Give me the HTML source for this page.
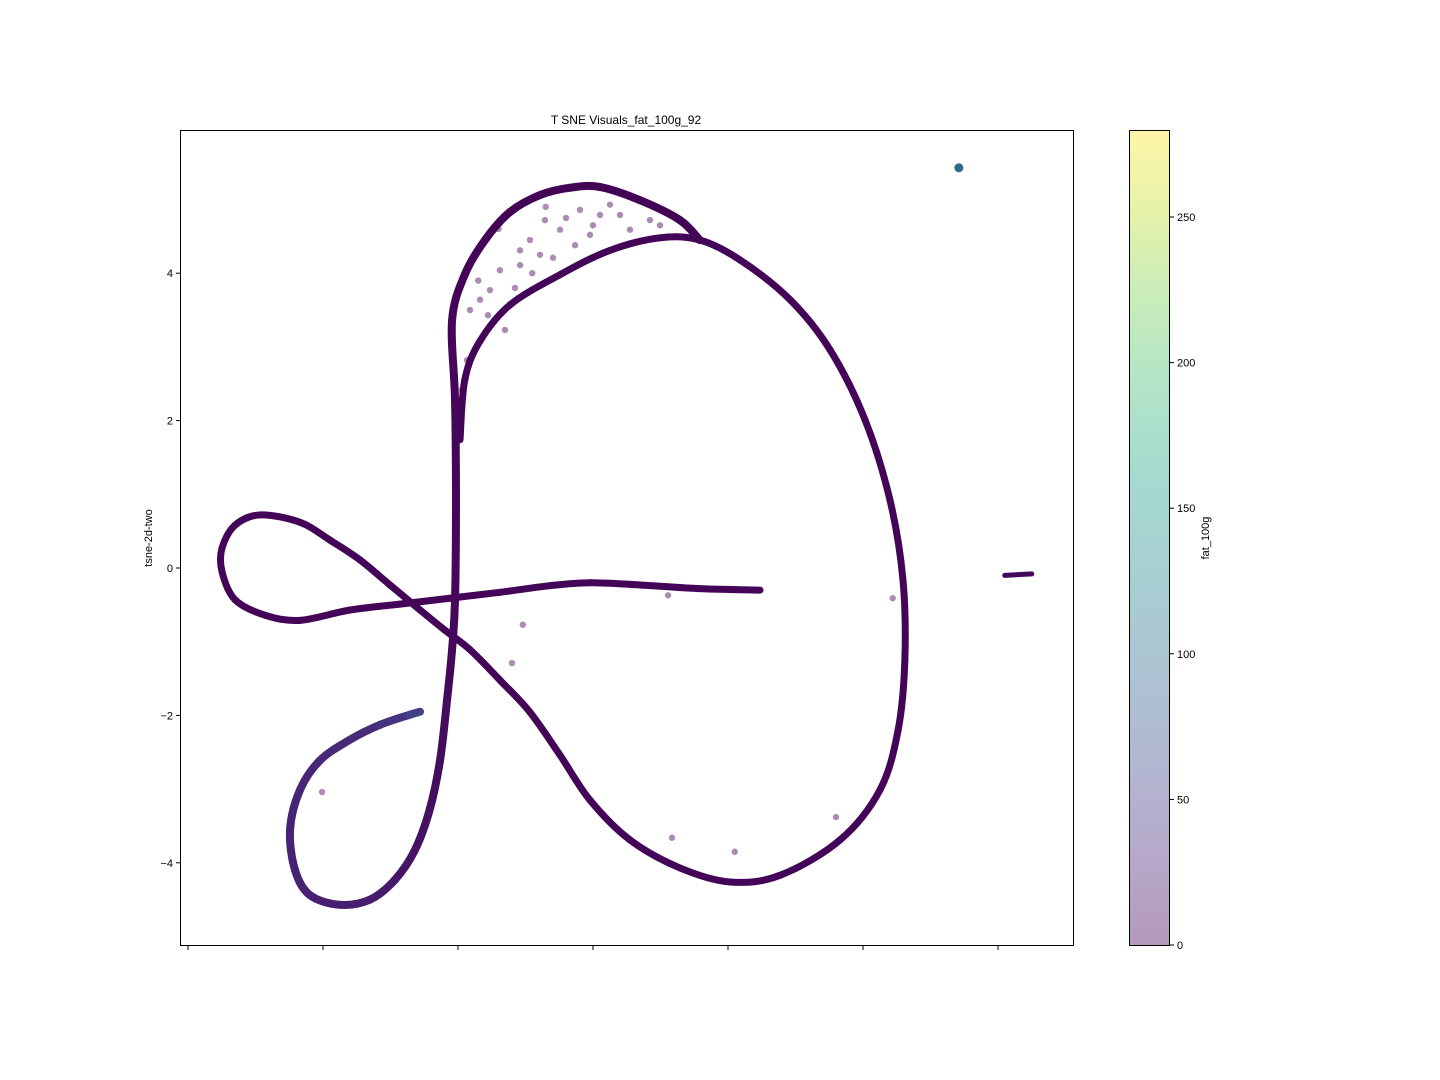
<!DOCTYPE html>
<html><head><meta charset="utf-8"><style>
body{margin:0;background:#fff;}
svg{display:block;font-family:"Liberation Sans",sans-serif;}
</style></head><body>
<svg id="chart" width="1440" height="1080" xmlns="http://www.w3.org/2000/svg">
<defs>
<linearGradient id="vir" x1="0" y1="1" x2="0" y2="0">
<stop offset="0" stop-color="#440154"/><stop offset="0.1" stop-color="#482475"/><stop offset="0.2" stop-color="#414487"/><stop offset="0.3" stop-color="#355f8d"/><stop offset="0.4" stop-color="#2a788e"/><stop offset="0.5" stop-color="#21918c"/><stop offset="0.6" stop-color="#22a884"/><stop offset="0.7" stop-color="#44bf70"/><stop offset="0.8" stop-color="#7ad151"/><stop offset="0.9" stop-color="#bddf26"/><stop offset="1" stop-color="#fde725"/>
</linearGradient>
</defs>
<text x="626" y="124" font-size="12" text-anchor="middle">T SNE Visuals_fat_100g_92</text>
<g id="plot"></g>
<rect x="180.5" y="130.5" width="893" height="815" fill="none" stroke="#000" stroke-width="1"/>
<g id="yticks"></g>
<g id="xticks"></g>
<text transform="translate(152,538) rotate(-90)" font-size="11" text-anchor="middle">tsne-2d-two</text>
<rect x="1129.5" y="130.5" width="40" height="815" fill="url(#vir)" opacity="0.4"/>
<rect x="1129.5" y="130.5" width="40" height="815" fill="none" stroke="#000" stroke-width="1"/>
<g id="cticks"></g>
<text transform="translate(1209,538) rotate(-90)" font-size="11" text-anchor="middle">fat_100g</text>
</svg>
<script>
const yTickVals=[-4,-2,0,2,4];
const xTickVals=[0,100,200,300,400,500,600];
const cTickVals=[0,50,100,150,200,250];
const pathAx=[423.7,379,334.8,297.8,268,231,194,157,120,83,57,34.8,25.2,25.2,34.8,53.3,83,105,127.4,149.6,171.9,190,209,231,253,275.6,297.8,327.4,364.4,401.5,438.5,483,512.6,526,531,529.6,520,501.5,475.6,446,408.9,379,349.6,312.6,275.6,238.5,216,205,201.5];
const pathAy=[-0.30,-0.28,-0.23,-0.2,-0.24,-0.33,-0.41,-0.49,-0.57,-0.71,-0.64,-0.43,-0.05,0.27,0.58,0.72,0.62,0.38,0.11,-0.23,-0.57,-0.84,-1.11,-1.52,-1.95,-2.54,-3.15,-3.69,-4.07,-4.26,-4.17,-3.69,-3.01,-2.2,-1.25,-0.16,0.92,2.01,2.96,3.64,4.18,4.45,4.48,4.31,3.98,3.57,3.07,2.55,1.74];
const pathBx=[379,364.4,334.8,305,283,260.7,238.5,220,205,195.6,197.8,198.5,197.8,195.6,191.9,186.7,179,168,153.3,134.8,112.6,90.4,79.3,75.6,83,97.8,120,142,164.4,171.9];
const pathBy=[4.45,4.72,4.99,5.17,5.16,5.06,4.83,4.45,3.98,3.36,2.28,0.92,-0.43,-1.11,-1.79,-2.61,-3.28,-3.83,-4.23,-4.5,-4.57,-4.44,-4.1,-3.55,-3.01,-2.61,-2.33,-2.13,-1.99,-1.95];
const pathBfat=[2,2,2,2,2,2,2,3,3,4,5,5,5,6,8,10,13,16,20,22,24,26,27,28,30,32,36,42,55,75];
const scatX=[216.3,223.7,231,246,253.3,264.4,275.6,286.7,297.8,305.2,320,327.4,342.2,349.6,234.8,222.2,208.9,212.6,246,260.7,290.4,312.6,270.4,242.2,206.7,203,248,240,405,358.5,480,99.3,522,355.6,230,255,280,300,265,215];
const scatY=[3.64,3.77,4.04,4.31,4.45,4.72,4.59,4.38,4.52,4.79,4.79,4.59,4.72,4.65,3.23,3.43,3.5,2.96,4.11,4.25,4.86,4.93,4.21,3.8,2.82,2.42,-0.77,-1.29,-3.85,-3.66,-3.38,-3.04,-0.41,-0.37,4.6,4.0,4.75,4.65,4.9,3.9];
const clusterX=[571,605,625];
const clusterY=[5.43,-0.1,-0.08];
const clusterFat=[95,5,5];

const X=v=>188+v*1.35, Y=v=>568-v*73.7, C=v=>945-v*2.912;
const NS='http://www.w3.org/2000/svg';
const vir=['#440154','#482475','#414487','#355f8d','#2a788e','#21918c','#22a884','#44bf70','#7ad151','#bddf26','#fde725'];
function hex(h){return [1,3,5].map(i=>parseInt(h.substr(i,2),16));}
function col(f){let t=Math.max(0,Math.min(1,f/280))*10;let i=Math.min(9,Math.floor(t));let a=hex(vir[i]),b=hex(vir[i+1]),u=t-i;return 'rgb('+a.map((c,k)=>Math.round(c+(b[k]-c)*u)).join(',')+')';}
function mk(tag,attrs,parent){const e=document.createElementNS(NS,tag);for(const k in attrs)e.setAttribute(k,attrs[k]);parent.appendChild(e);return e;}
const plot=document.getElementById('plot');
function drawPath(xs,ys,fats,w,name){
  const P=xs.map((x,i)=>[X(x),Y(ys[i])]);
  const n=P.length;
  for(let i=0;i<n-1;i++){
    const p0=P[Math.max(0,i-1)],p1=P[i],p2=P[i+1],p3=P[Math.min(n-1,i+2)];
    const c1=[p1[0]+(p2[0]-p0[0])/6,p1[1]+(p2[1]-p0[1])/6];
    const c2=[p2[0]-(p3[0]-p1[0])/6,p2[1]-(p3[1]-p1[1])/6];
    const d='M'+p1[0]+','+p1[1]+' C'+c1[0]+','+c1[1]+' '+c2[0]+','+c2[1]+' '+p2[0]+','+p2[1];
    const s=mk('path',{d:d,fill:'none',stroke:col(fats?fats[i]:3),'stroke-width':w,'stroke-linecap':'round'},plot);
    
    
  }
}
drawPath(pathAx,pathAy,null,7,'main-loop');
drawPath(pathBx,pathBy,pathBfat,8,'vertical-strand');
for(let i=0;i<scatX.length;i++){
  const c=mk('circle',{cx:X(scatX[i]),cy:Y(scatY[i]),r:3.2,fill:'#440154','fill-opacity':0.45},plot);
  
  
}
const c0=mk('circle',{cx:X(clusterX[0]),cy:Y(clusterY[0]),r:4.5,fill:col(clusterFat[0])},plot);


const l1=mk('line',{x1:X(clusterX[1]),y1:Y(clusterY[1]),x2:X(clusterX[2]),y2:Y(clusterY[2]),stroke:col(clusterFat[1]),'stroke-width':5,'stroke-linecap':'round'},plot);



const yt=document.getElementById('yticks');
yTickVals.forEach(v=>{
  const t=mk('line',{x1:176,x2:180,y1:Y(v),y2:Y(v),stroke:'#000'},yt);
  
  
  const tx=mk('text',{x:173,y:Y(v)+4,'font-size':11,'text-anchor':'end'},yt);
  tx.textContent=(v<0?'\u2212'+(-v):v);
  
  
});
const xt=document.getElementById('xticks');
xTickVals.forEach(v=>{
  const t=mk('line',{x1:X(v),x2:X(v),y1:946,y2:950,stroke:'#000'},xt);
  
  
});
const ct=document.getElementById('cticks');
cTickVals.forEach(v=>{
  const t=mk('line',{x1:1170,x2:1174,y1:C(v),y2:C(v),stroke:'#000'},ct);
  
  
  const tx=mk('text',{x:1177,y:C(v)+4,'font-size':11},ct);
  tx.textContent=v;
  
  
});
</script>
</body></html>
